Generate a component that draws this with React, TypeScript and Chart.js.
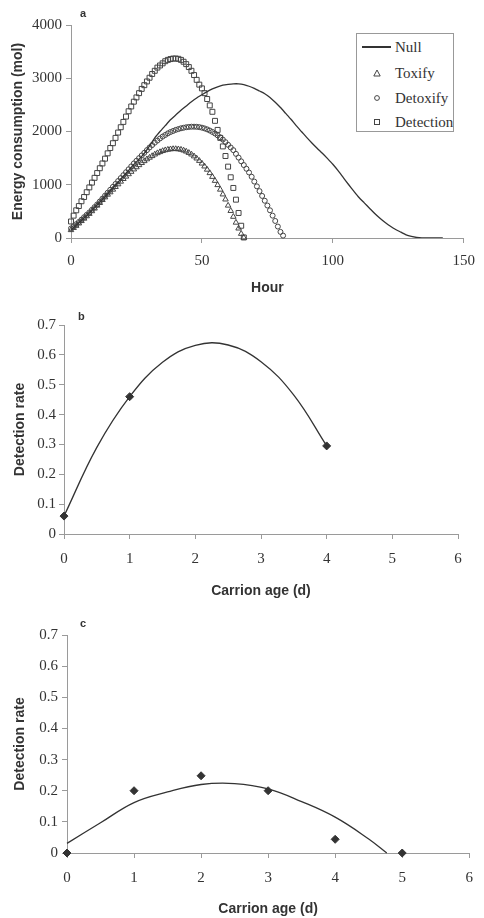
import React, { useEffect, useRef } from "react";
import { Chart, registerables } from "chart.js";

Chart.register(...registerables);

// ---------- Panel a data (hourly samples, hour = index) ----------
const detectionEnergy = [
  310, 420, 520, 600, 690, 770, 860, 950, 1040, 1130,
  1220, 1310, 1400, 1490, 1590, 1690, 1780, 1880, 1980, 2080,
  2180, 2280, 2380, 2470, 2560, 2640, 2720, 2800, 2870, 2940,
  3010, 3080, 3140, 3200, 3240, 3280, 3320, 3345, 3360, 3370,
  3370, 3365, 3345, 3310, 3265, 3210, 3140, 3060, 2970, 2880,
  2810, 2720, 2610, 2490, 2370, 2200, 2030, 1880, 1720, 1540,
  1340, 1140, 940, 720, 470, 230, 10,
];
const toxifyEnergy = [
  150, 190, 230, 275, 320, 365, 410, 455, 505, 555,
  610, 660, 715, 765, 815, 860, 910, 960, 1010, 1060,
  1110, 1155, 1200, 1245, 1290, 1330, 1370, 1410, 1445, 1480,
  1510, 1540, 1570, 1595, 1615, 1635, 1650, 1660, 1668, 1672,
  1672, 1668, 1660, 1645, 1625, 1600, 1570, 1535, 1495, 1450,
  1400, 1345, 1285, 1220, 1150, 1075, 995, 910, 820, 725,
  610, 510, 400, 290, 180, 80, 5,
];
const detoxifyEnergy = [
  180, 220, 260, 300, 345, 390, 435, 480, 530, 580,
  630, 685, 740, 795, 850, 905, 960, 1015, 1070, 1125,
  1180, 1235, 1290, 1345, 1400, 1450, 1500, 1550, 1600, 1650,
  1700, 1745, 1790, 1830, 1870, 1905, 1935, 1965, 1990, 2010,
  2030, 2045, 2060, 2070, 2080, 2085, 2090, 2090, 2088, 2082,
  2072, 2058, 2040, 2018, 1992, 1962, 1928, 1890, 1848, 1800,
  1750, 1700, 1650, 1580, 1510, 1440, 1370, 1300, 1230, 1150,
  1060, 970, 880, 790, 700, 610, 520, 420, 320, 215,
  115, 45,
];
const nullHours = [
  0, 2, 4, 6, 8, 10, 12, 14, 16, 18,
  20, 22, 24, 26, 28, 30, 32, 34, 36, 38,
  40, 42, 44, 46, 48, 50, 52, 54, 56, 58,
  60, 62, 64, 66, 68, 70, 72, 74, 76, 78,
  80, 82, 84, 86, 88, 90, 92, 94, 96, 98,
  100, 102, 104, 106, 108, 110, 112, 114, 116, 118,
  120, 122, 124, 126, 128, 130, 132, 134, 136, 138,
  140, 142,
];
const nullEnergy = [
  150, 240, 330, 420, 520, 620, 720, 830, 940, 1050,
  1160, 1270, 1380, 1480, 1590, 1730, 1880, 2000, 2110, 2220,
  2310, 2400, 2480, 2560, 2630, 2690, 2750, 2800, 2840, 2870,
  2885, 2895, 2895, 2880, 2850, 2810, 2760, 2710, 2640, 2550,
  2450, 2340, 2230, 2110, 2000, 1890, 1785, 1685, 1590, 1490,
  1385, 1265, 1135, 1005, 880, 760, 660, 560, 460, 370,
  290, 220, 160, 110, 60, 30, 10, 0, 0, 0,
  0, 0,
];
const legendLabels = ["Null", "Toxify", "Detoxify", "Detection"];

// ---------- Panel b data ----------
const ageB = [0, 1, 4];
const rateB = [0.06, 0.46, 0.295];
const fitAgeB = [0, 0.5, 1, 1.5, 2, 2.5, 3, 3.5, 4];
const fitRateB = [0.06, 0.29, 0.46, 0.575, 0.632, 0.633, 0.577, 0.465, 0.295];

// ---------- Panel c data ----------
const ageC = [0, 1, 2, 3, 4, 5];
const rateC = [0, 0.2, 0.248, 0.2, 0.044, 0];
const fitAgeC = [0, 0.5, 1, 1.5, 2, 2.5, 3, 3.5, 4, 4.5, 4.77];
const fitRateC = [0.031, 0.097, 0.162, 0.196, 0.22, 0.223, 0.206, 0.165, 0.115, 0.045, 0];

const SERIF = '"Liberation Serif", "Times New Roman", serif';
const SANS = '"Liberation Sans", Arial, sans-serif';
const INK = "#333";
const AXIS = "#9a9a9a";

type ScaleSpec = {
  xMin: number; xMax: number; xStep: number;
  yMin: number; yMax: number; yStep: number;
  yWidth: number; xHeight: number;
  xTitle: string; yTitle: string;
  xTickPad: number; yTickPad: number;
  xTitlePad: number; yTitlePad: number;
  yDecimals: number;
};

function makeScales(p: ScaleSpec) {
  const tickFont = { family: SERIF, size: 15 };
  const titleFont = { family: SANS, size: 14, weight: "bold" as const };
  return {
    x: {
      type: "linear",
      position: "bottom",
      min: p.xMin,
      max: p.xMax,
      ticks: {
        stepSize: p.xStep,
        padding: p.xTickPad,
        color: INK,
        font: tickFont,
        maxRotation: 0,
        autoSkip: false,
        callback: (v: number) => String(v),
      },
      grid: { drawOnChartArea: false, drawTicks: true, tickLength: 5, color: AXIS },
      border: { display: true, color: AXIS, width: 1 },
      title: {
        display: true,
        text: p.xTitle,
        color: INK,
        font: titleFont,
        padding: { top: 0, bottom: p.xTitlePad },
      },
      afterFit: (s: any) => {
        s.height = p.xHeight;
      },
    },
    y: {
      type: "linear",
      position: "left",
      min: p.yMin,
      max: p.yMax,
      ticks: {
        stepSize: p.yStep,
        padding: p.yTickPad,
        color: INK,
        font: tickFont,
        callback: (v: number) => String(Number(v.toFixed(p.yDecimals))),
      },
      grid: { drawOnChartArea: false, drawTicks: true, tickLength: 5, color: AXIS },
      border: { display: true, color: AXIS, width: 1 },
      title: {
        display: true,
        text: p.yTitle,
        color: INK,
        font: titleFont,
        padding: { top: p.yTitlePad, bottom: 0 },
      },
      afterFit: (s: any) => {
        s.width = p.yWidth;
      },
    },
  };
}

function baseOptions(scales: any, padding: any) {
  return {
    animation: false,
    responsive: false,
    events: [],
    layout: { padding },
    plugins: { legend: { display: false }, tooltip: { enabled: false } },
    scales,
  };
}

function configA() {
  const marker = (pointStyle: string, r: number) => ({
    pointStyle,
    pointRadius: r,
    borderColor: "#444",
    borderWidth: 1,
    backgroundColor: "rgba(255,255,255,0)",
    showLine: false,
    clip: false,
  });
  return {
    type: "scatter",
    data: {
      datasets: [
        {
          label: legendLabels[0],
          data: nullHours.map((h, i) => ({ x: h, y: nullEnergy[i] })),
          showLine: true,
          pointRadius: 0,
          borderColor: INK,
          borderWidth: 1.3,
          tension: 0.2,
        },
        {
          label: legendLabels[1],
          data: toxifyEnergy.map((y, i) => ({ x: i, y })),
          ...marker("triangle", 3.2),
        },
        {
          label: legendLabels[2],
          data: detoxifyEnergy.map((y, i) => ({ x: i, y })),
          ...marker("circle", 2.5),
        },
        {
          label: legendLabels[3],
          data: detectionEnergy.map((y, i) => ({ x: i, y })),
          ...marker("rect", 3.5),
        },
      ],
    },
    options: baseOptions(
      makeScales({
        xMin: 0, xMax: 150, xStep: 50,
        yMin: 0, yMax: 4000, yStep: 1000,
        yWidth: 71, xHeight: 62,
        xTitle: "Hour", yTitle: "Energy consumption (mol)",
        xTickPad: 9, yTickPad: 4, xTitlePad: 3, yTitlePad: 10,
        yDecimals: 0,
      }),
      { top: 25, right: 14, left: 0, bottom: 0 }
    ),
  };
}

function configRate(
  ages: number[], rates: number[], fitAges: number[], fitRates: number[],
  dims: { yWidth: number; xHeight: number; right: number; top: number; yTickPad: number; diamond: number }
) {
  return {
    type: "scatter",
    data: {
      datasets: [
        {
          label: "fit",
          data: fitAges.map((x, i) => ({ x, y: fitRates[i] })),
          showLine: true,
          pointRadius: 0,
          borderColor: INK,
          borderWidth: 1.3,
          tension: 0.4,
          clip: false,
        },
        {
          label: "observed",
          data: ages.map((x, i) => ({ x, y: rates[i] })),
          pointStyle: "rectRot",
          pointRadius: dims.diamond,
          backgroundColor: INK,
          borderColor: INK,
          borderWidth: 1,
          clip: false,
        },
      ],
    },
    options: baseOptions(
      makeScales({
        xMin: 0, xMax: 6, xStep: 1,
        yMin: 0, yMax: 0.7, yStep: 0.1,
        yWidth: dims.yWidth, xHeight: dims.xHeight,
        xTitle: "Carrion age (d)", yTitle: "Detection rate",
        xTickPad: 11, yTickPad: dims.yTickPad, xTitlePad: 0, yTitlePad: 12,
        yDecimals: 1,
      }),
      { top: dims.top, right: dims.right, left: 0, bottom: 0 }
    ),
  };
}

function ChartCanvas({ top, height, make }: { top: number; height: number; make: () => any }) {
  const ref = useRef<HTMLCanvasElement | null>(null);
  useEffect(() => {
    if (!ref.current) return;
    const chart = new Chart(ref.current, make());
    return () => chart.destroy();
  }, []);
  return (
    <div style={{ position: "absolute", left: 0, top, width: 484, height }}>
      <canvas ref={ref} width={484} height={height} style={{ width: 484, height, display: "block" }} />
    </div>
  );
}

function LegendMarker({ kind }: { kind: string }) {
  const common = { fill: "none", stroke: "#444", strokeWidth: 1 };
  return (
    <svg width={8} height={8} style={{ position: "absolute", left: 16, top: 5 }}>
      {kind === "Toxify" && <polygon points="4,1 7.2,7 0.8,7" {...common} />}
      {kind === "Detoxify" && <circle cx={4} cy={4} r={2.4} {...common} />}
      {kind === "Detection" && <rect x={1.5} y={1.5} width={5} height={5} {...common} />}
    </svg>
  );
}

function Legend() {
  const centers = [13, 39, 64, 88];
  return (
    <div
      style={{
        position: "absolute",
        left: 356,
        top: 33,
        width: 98,
        height: 99,
        border: "1px solid #999",
        boxSizing: "border-box",
        background: "#fff",
        fontFamily: SERIF,
        fontSize: 15,
        color: INK,
      }}
    >
      {legendLabels.map((lab, i) => (
        <div key={lab} style={{ position: "absolute", left: 0, top: centers[i] - 9, width: 96, height: 18 }}>
          {lab === "Null" ? (
            <div style={{ position: "absolute", left: 5, top: 8, width: 29, height: 1.5, background: INK }} />
          ) : (
            <LegendMarker kind={lab} />
          )}
          <span style={{ position: "absolute", left: 38, top: 0, lineHeight: "18px", whiteSpace: "nowrap" }}>{lab}</span>
        </div>
      ))}
    </div>
  );
}

function PanelLabel({ text, left, top }: { text: string; left: number; top: number }) {
  return (
    <div
      style={{
        position: "absolute",
        left,
        top,
        fontFamily: SANS,
        fontWeight: "bold",
        fontSize: 11,
        lineHeight: "11px",
        color: INK,
      }}
    >
      {text}
    </div>
  );
}

export default function App() {
  return (
    <div style={{ position: "absolute", left: 0, top: 0, width: 484, height: 918, background: "#fff", overflow: "hidden" }}>
      <ChartCanvas top={0} height={300} make={configA} />
      <ChartCanvas
        top={300}
        height={300}
        make={() =>
          configRate(ageB, rateB, fitAgeB, fitRateB, { yWidth: 64, xHeight: 66, right: 26, top: 25, yTickPad: 3, diamond: 4 })
        }
      />
      <ChartCanvas
        top={600}
        height={318}
        make={() =>
          configRate(ageC, rateC, fitAgeC, fitRateC, { yWidth: 67, xHeight: 65, right: 14, top: 35, yTickPad: 4, diamond: 4 })
        }
      />
      <Legend />
      <PanelLabel text="a" left={80} top={8} />
      <PanelLabel text="b" left={78} top={311} />
      <PanelLabel text="c" left={80} top={618} />
    </div>
  );
}
